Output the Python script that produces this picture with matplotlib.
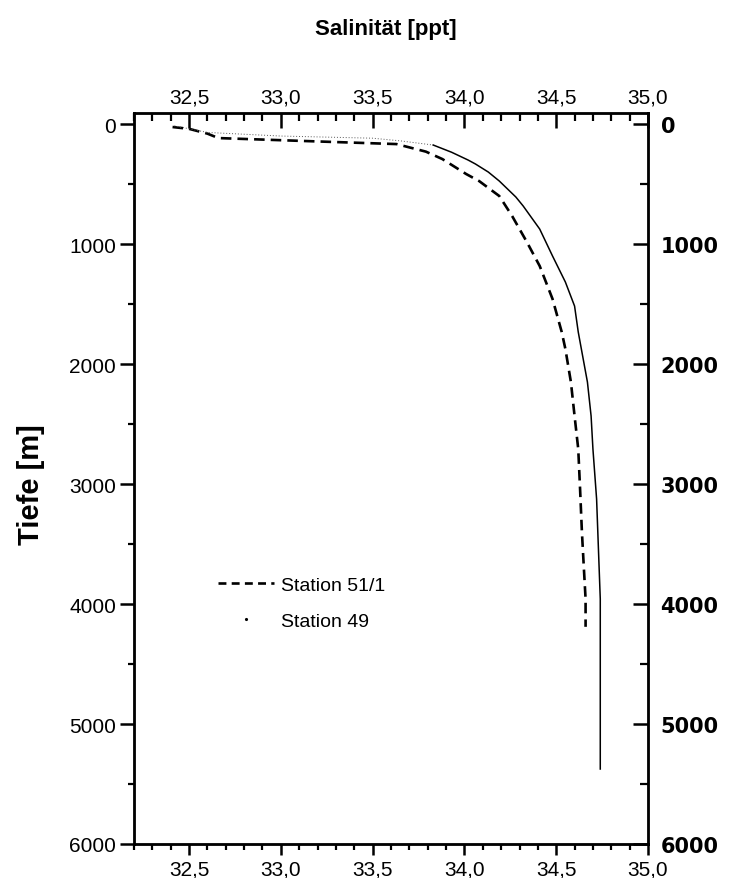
import matplotlib
matplotlib.use("Agg")
import matplotlib.pyplot as plt
from matplotlib.lines import Line2D
from matplotlib.ticker import MultipleLocator, FuncFormatter

plt.rcParams['font.family'] = ['Liberation Sans', 'DejaVu Sans']

# Station 51/1 (dashed)
s51_sal = [32.41, 32.50, 32.60, 32.66, 33.14, 33.63, 33.79, 33.88, 34.01, 34.08, 34.19,
           34.26, 34.34, 34.41, 34.48, 34.53, 34.55, 34.58, 34.60, 34.62, 34.63, 34.64,
           34.65, 34.66, 34.66]
s51_depth = [25, 40, 80, 117, 142, 167, 230, 292, 417, 475, 600,
             767, 983, 1183, 1458, 1733, 1875, 2150, 2433, 2708, 3042, 3400,
             3683, 3958, 4190]

# Station 49 (solid; near-surface part only faintly printed)
s49_sal = [32.42, 32.60, 33.00, 33.50, 33.65, 33.83, 33.93, 34.02, 34.06, 34.13, 34.19,
           34.28, 34.32, 34.41, 34.48, 34.55, 34.60, 34.62, 34.64, 34.67, 34.69, 34.70,
           34.72, 34.73, 34.74, 34.74, 34.74, 34.74]
s49_depth = [15, 70, 100, 118, 140, 175, 235, 300, 333, 400, 475,
             608, 683, 875, 1100, 1317, 1517, 1733, 1900, 2150, 2433, 2708,
             3125, 3542, 3958, 4375, 4792, 5375]
s49_faint_end = 5  # index where the solid print begins

x_ticks = [32.5, 33.0, 33.5, 34.0, 34.5, 35.0]
y_ticks = [0, 1000, 2000, 3000, 4000, 5000, 6000]
xlim = (32.2, 35.0)
ylim = (6000, -92)

fig = plt.figure(figsize=(7.31, 8.79), dpi=100)
ax = fig.add_axes([134/731, 1-845/879, (648-134)/731, (845-114)/879])

ax.plot(s51_sal, s51_depth, color='black', lw=1.9, linestyle=(0, (4, 2.3)))
ax.plot(s49_sal[:s49_faint_end+1], s49_depth[:s49_faint_end+1], color='0.35', lw=0.7,
        linestyle=(0, (1, 2)))
ax.plot(s49_sal[s49_faint_end:], s49_depth[s49_faint_end:], color='black', lw=1.1)

ax.set_xlim(*xlim)
ax.set_ylim(*ylim)

comma = FuncFormatter(lambda v, p: f"{v:.1f}".replace('.', ','))

# bottom / left: outward ticks
ax.set_xticks(x_ticks)
ax.xaxis.set_major_formatter(comma)
ax.xaxis.set_minor_locator(MultipleLocator(0.1))
ax.set_yticks(y_ticks)
ax.yaxis.set_minor_locator(MultipleLocator(500))
ax.tick_params(axis='both', which='major', direction='out', length=8, width=1.8,
               labelsize=15, pad=3)
ax.tick_params(axis='both', which='minor', direction='out', length=4, width=1.6)
ax.tick_params(axis='y', which='major', length=10)

for s in ax.spines.values():
    s.set_linewidth(2.0)

# top axis: inward ticks, labels on top
axt = ax.twiny()
axt.set_xlim(*xlim)
axt.set_xticks(x_ticks)
axt.xaxis.set_major_formatter(comma)
axt.xaxis.set_minor_locator(MultipleLocator(0.1))
axt.tick_params(axis='x', which='major', direction='in', length=11, width=1.8,
                labelsize=15, pad=5)
axt.tick_params(axis='x', which='minor', direction='in', length=6, width=1.6)

# right axis: inward ticks, bold labels
axr = ax.twinx()
axr.set_ylim(*ylim)
axr.set_yticks(y_ticks)
axr.yaxis.set_minor_locator(MultipleLocator(500))
axr.tick_params(axis='y', which='major', direction='in', length=11, width=1.8,
                labelsize=15, pad=9)
axr.tick_params(axis='y', which='minor', direction='in', length=6, width=1.6)
for lab in axr.get_yticklabels():
    lab.set_fontweight('bold')
    lab.set_family(['DejaVu Sans'])

fig.text(386/731, 1-30/879, 'Salinität [ppt]', ha='center', va='center', fontsize=16,
         fontweight='bold')
fig.text(31/731, 1-485/879, 'Tiefe [m]', ha='center', va='center', rotation=90,
         fontsize=21, fontweight='bold')

handles = [Line2D([], [], color='black', lw=1.9, linestyle=(0, (3, 2))),
           Line2D([], [], color='black', linestyle='None', marker='.', markersize=2.5)]
ax.legend(handles, ['Station 51/1', 'Station 49'], loc='upper left',
          bbox_to_anchor=(218/731, 1-577/879), bbox_transform=fig.transFigure,
          frameon=False, fontsize=14, handlelength=2.9, handletextpad=0.35,
          labelspacing=0.95, borderpad=0, borderaxespad=0)

fig.savefig('out.png', dpi=100)
